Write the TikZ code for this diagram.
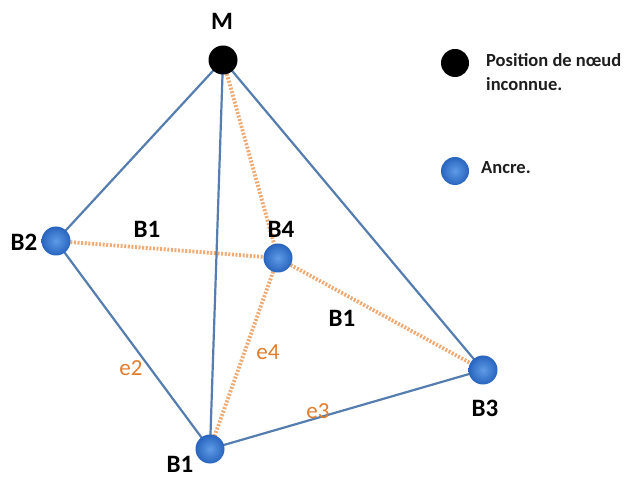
\documentclass[tikz,border=0pt]{standalone}
\usepackage{fontspec}
\setmainfont{Carlito}
\begin{document}
\begin{tikzpicture}[x=1pt,y=-1pt,
  anchorpt/.style={circle,inner sep=0pt,minimum size=29pt,shading=radial,inner color={rgb,255:red,95;green,155;blue,230},outer color={rgb,255:red,40;green,100;blue,190}},
  unknownpt/.style={circle,inner sep=0pt,minimum size=29pt,fill=black},
  edgeline/.style={draw={rgb,255:red,85;green,125;blue,175},line width=2.2pt},
  rangeline/.style={draw={rgb,255:red,240;green,170;blue,115},line width=3.8pt,dash pattern=on 2pt off 1.6pt},
  lbl/.style={font=\bfseries\fontsize{25}{28}\selectfont,text=black,inner sep=0pt},
  elbl/.style={font=\fontsize{23}{26}\selectfont,text={rgb,255:red,225;green,125;blue,45},inner sep=0pt},
  legtext/.style={font=\bfseries\fontsize{18.5}{22}\selectfont,text={rgb,255:red,30;green,30;blue,30},inner sep=0pt,anchor=west,align=left}]
\useasboundingbox[fill=white] (0,0) rectangle (630,481);
% points
\coordinate (Mc) at (223,60);
\coordinate (B2c) at (56,241);
\coordinate (B4c) at (278,258);
\coordinate (B3c) at (483,370);
\coordinate (B1c) at (210,449);
% edges
\draw[rangeline] (Mc) -- (B4c);
\draw[rangeline] (B2c) -- (B4c);
\draw[rangeline] (B4c) -- (B3c);
\draw[rangeline] (B4c) -- (B1c);
\draw[edgeline] (Mc) -- (B2c);
\draw[edgeline] (Mc) -- (B1c);
\draw[edgeline] (Mc) -- (B3c);
\draw[edgeline] (B2c) -- (B1c);
\draw[edgeline] (B1c) -- (B3c);
% nodes
\node[unknownpt] (M) at (Mc) {};
\node[anchorpt] (B2) at (B2c) {};
\node[anchorpt] (B4) at (B4c) {};
\node[anchorpt] (B3) at (B3c) {};
\node[anchorpt] (B1) at (B1c) {};
% labels
\node[lbl] (lM) at (222,21) {M};
\node[lbl] (lB2) at (24,242) {B2};
\node[lbl] (lB4) at (281,229) {B4};
\node[lbl] (lB1a) at (147,229) {B1};
\node[lbl] (lB1b) at (342,318) {B1};
\node[lbl] (lB3) at (485,408) {B3};
\node[lbl] (lB1c) at (180,464) {B1};
\node[elbl] (le2) at (131,368) {e2};
\node[elbl] (le4) at (268,352) {e4};
\node[elbl] (le3) at (318,411) {e3};
% legend
\node[unknownpt,minimum size=28pt] (legM) at (455,63) {};
\node[legtext] (legMt) at (486,72) {Position de nœud\\[2pt]inconnue.};
\node[anchorpt,minimum size=28pt] (legA) at (455,171) {};
\node[legtext] (legAt) at (481,168) {Ancre.};
\end{tikzpicture}
\end{document}
